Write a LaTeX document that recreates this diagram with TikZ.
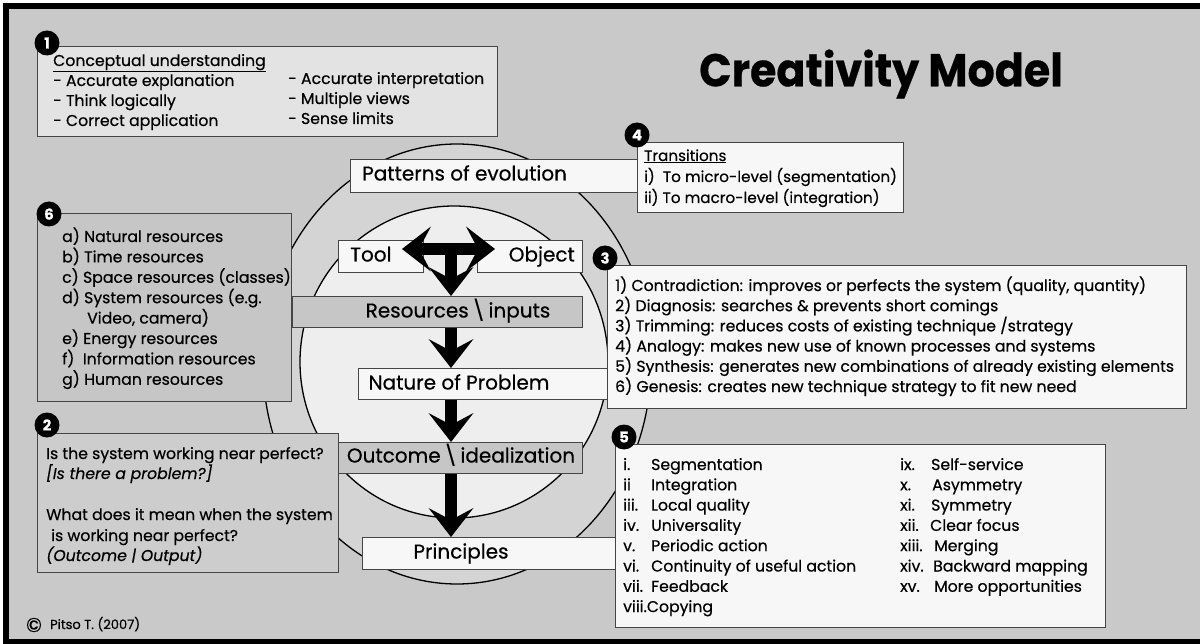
\documentclass[tikz,border=0pt]{standalone}
\usepackage{fontspec}
\setmainfont{Poppins}[FakeBold=0.5]
\usetikzlibrary{arrows.meta}

\definecolor{bg}{HTML}{C9C9C9}
\definecolor{ring}{HTML}{D4D4D4}
\definecolor{core}{HTML}{EEEEEE}
\definecolor{paper}{HTML}{F7F7F7}
\definecolor{lite}{HTML}{E3E3E3}
\definecolor{mid}{HTML}{C6C6C6}
\definecolor{soft}{HTML}{CDCDCD}
\definecolor{edge}{HTML}{454545}

\tikzset{
  panel/.style={draw=edge, line width=1.2pt, anchor=north west, inner sep=0pt},
  badge/.style={circle, fill=black, text=white, inner sep=0pt, minimum size=25pt,
                font=\bfseries\fontsize{15}{15}\selectfont},
  entry/.style={anchor=west, inner sep=0pt, text height=11pt, text depth=3pt,
                font=\fontsize{15.7}{18}\selectfont},
  slanted/.style={font=\itshape\fontsize{15.7}{18}\selectfont},
  boxtext/.style={inner sep=0pt, text height=15pt, text depth=4pt,
                font=\fontsize{20}{22}\selectfont},
  bigtip/.tip={Stealth[length=29pt,width=45pt,inset=12pt,line width=0pt]},
  flow/.style={line width=12pt, -bigtip},
}

\begin{document}
\begin{tikzpicture}[x=1pt,y=-1pt]
\useasboundingbox (0,0) rectangle (1200,644);

% frame and background
\fill[white] (0,0) rectangle (1200,644);
\fill[black] (3,3) rectangle (1200,644);
\fill[bg] (9,9) rectangle (1200,639);

% title
\node[font=\bfseries\fontsize{46}{46}\selectfont, inner sep=0pt] (title) at (881,74)
  {\scalebox{0.93}[1]{Creativity Model}};

% the two rings
\draw[fill=ring, line width=1.3pt] (457,364) ellipse [x radius=194, y radius=220];
\draw[fill=core, line width=1.3pt] (454,362) ellipse [x radius=154, y radius=156];

% side panels
\node[panel, fill=lite, minimum width=460pt, minimum height=90pt] (b1) at (37,46) {};
\node[panel, fill=paper, minimum width=266pt, minimum height=70pt] (b4) at (637,142) {};
\node[panel, fill=mid, minimum width=254pt, minimum height=188pt] (b6) at (37,213) {};
\node[panel, fill=soft, minimum width=301pt, minimum height=139pt] (b2) at (37,433) {};
\node[panel, fill=paper, minimum width=579pt, minimum height=143pt] (b3) at (607,265) {};
\node[panel, fill=paper, minimum width=490pt, minimum height=183pt] (b5) at (615,444) {};

% central chain
\node[panel, fill=paper, minimum width=287pt, minimum height=33pt] (pat) at (350,159) {};
\node[panel, fill=paper, minimum width=85pt, minimum height=32pt] (tool) at (338,240) {};
\node[panel, fill=paper, minimum width=105pt, minimum height=32pt] (obj) at (477,240) {};
\node[panel, fill=mid, minimum width=290pt, minimum height=31pt] (res) at (292,296) {};
\node[panel, fill=paper, minimum width=249pt, minimum height=31pt] (nat) at (358,368) {};
\node[panel, fill=mid, minimum width=244pt, minimum height=31pt] (out) at (338,442) {};
\node[panel, fill=paper, minimum width=253pt, minimum height=32pt] (pri) at (362,537) {};

\node[boxtext, anchor=west] (patT) at (362,175) {Patterns of evolution};
\node[boxtext, anchor=west] (toolT) at (350,256) {Tool};
\node[boxtext, anchor=east] (objT) at (575,256) {Object};
\node[boxtext] (resT) at (458,312) {Resources\,\textbackslash\,inputs};
\node[boxtext] (natT) at (459,384) {Nature of Problem};
\node[boxtext] (outT) at (461,457) {Outcome\,\textbackslash\,idealization};
\node[boxtext] (priT) at (461,553) {Principles};

% arrows
\coordinate (axis) at (451,0);
\coordinate (tl) at (402,249);
\coordinate (tr) at (495,249);
\coordinate (tee) at (451,244);
\draw[line width=12pt, bigtip-bigtip] (tl) -- (tr);
\draw[flow] (tee) -- (res.north -| axis);
\draw[flow] (res.south -| axis) -- (nat.north -| axis);
\draw[flow] (nat.south -| axis) -- (out.north -| axis);
\draw[flow] (out.south -| axis) -- (pri.north -| axis);

% panel 1
\node[entry] (c0) at (53,62) {\underline{Conceptual understanding}};
\node[entry] (c1) at (53,82) {- Accurate explanation};
\node[entry] (c2) at (53,102) {- Think logically};
\node[entry] (c3) at (53,122) {- Correct application};
\node[entry] (c4) at (288,80) {- Accurate interpretation};
\node[entry] (c5) at (288,100) {- Multiple views};
\node[entry] (c6) at (288,120) {- Sense limits};

% panel 4
\node[entry, font=\fontsize{15.2}{18}\selectfont] (t0) at (644,157) {\underline{Transitions}};
\node[entry, font=\fontsize{15.2}{18}\selectfont] (t1) at (644,178) {i)\ \ To micro-level (segmentation)};
\node[entry, font=\fontsize{15.2}{18}\selectfont] (t2) at (644,199) {ii) To macro-level (integration)};

% panel 6
\node[entry] (r1) at (62,238) {a) Natural resources};
\node[entry] (r2) at (62,258.4) {b) Time resources};
\node[entry] (r3) at (62,278.8) {c) Space resources (classes)};
\node[entry] (r4) at (62,299.2) {d) System resources (e.g.};
\node[entry] (r5) at (87,319.6) {Video, camera)};
\node[entry] (r6) at (62,340) {e) Energy resources};
\node[entry] (r7) at (62,360.4) {f)\ \ Information resources};
\node[entry] (r8) at (62,380.8) {g) Human resources};

% panel 2
\node[entry] (q1) at (46,455) {Is the system working near perfect?};
\node[entry, slanted] (q2) at (46,475) {[Is there a problem?]};
\node[entry] (q3) at (46,516) {What does it mean when the system};
\node[entry] (q4) at (51,537) {is working near perfect?};
\node[entry, slanted] (q5) at (46,557) {(Outcome | Output)};

% panel 3
\node[entry] (m1) at (615,287) {1) Contradiction: improves or perfects the system (quality, quantity)};
\node[entry] (m2) at (615,307.2) {2) Diagnosis: searches \& prevents short comings};
\node[entry] (m3) at (615,327.4) {3) Trimming: reduces costs of existing technique /strategy};
\node[entry] (m4) at (615,347.6) {4) Analogy: makes new use of known processes and systems};
\node[entry] (m5) at (615,367.8) {5) Synthesis: generates new combinations of already existing elements};
\node[entry] (m6) at (615,388) {6) Genesis: creates new technique strategy to fit new need};

% panel 5, first column
\foreach \num/\txt [count=\k from 0] in {i./Segmentation, ii/Integration, iii./Local quality,
    iv./Universality, v./Periodic action, vi./Continuity of useful action, vii./Feedback}{
  \node[entry] (pn\k) at (623,466+20.3*\k) {\num};
  \node[entry] (pt\k) at (651,466+20.3*\k) {\txt};
}
\node[entry] (pn7) at (623,608.1) {viii.Copying};
% panel 5, second column
\foreach \num/\txt/\xo [count=\k from 0] in {ix./Self-service/931, x./Asymmetry/932, xi./Symmetry/931,
    xii./Clear focus/930, xiii./Merging/934, xiv./Backward mapping/933, xv./More opportunities/934}{
  \node[entry] (qn\k) at (900,466+20.3*\k) {\num};
  \node[entry] (qt\k) at (\xo,466+20.3*\k) {\txt};
}

% numbered badges
\node[badge] (n1) at (47,43) {1};
\node[badge] (n2) at (47,425) {2};
\node[badge] (n3) at (605,258) {3};
\node[badge] (n4) at (637,135) {4};
\node[badge] (n5) at (624,437) {5};
\node[badge] (n6) at (49,214) {6};

% credit line
\node[inner sep=0pt, font=\fontsize{20}{20}\selectfont] (copy) at (34,625) {\textcopyright};
\node[entry, font=\fontsize{13}{15}\selectfont] (credit) at (50,625) {Pitso T. (2007)};
\end{tikzpicture}
\end{document}
